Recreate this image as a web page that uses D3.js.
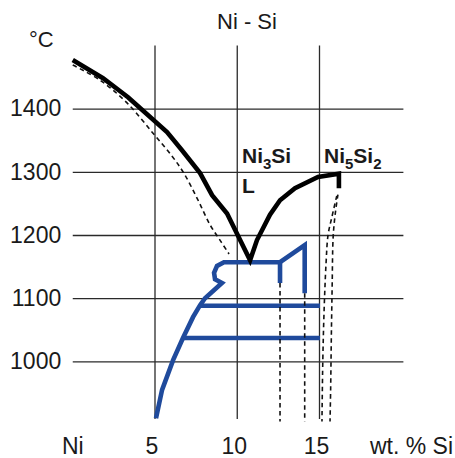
<!DOCTYPE html>
<html>
<head>
<meta charset="utf-8">
<script src="https://cdn.jsdelivr.net/npm/d3@7"></script>
<style>
  body { margin: 0; background: #fff; }
  svg { display: block; }
  text { font-family: "Liberation Sans", Arial, Helvetica, sans-serif; fill: #1a1a1a; }
</style>
</head>
<body>
<svg id="chart" width="455" height="458"></svg>
<script>
// Temperature ticks (°C) and composition ticks (wt. % Si)
const tempTicks = [1000, 1100, 1200, 1300, 1400];
const siTicks = [0, 5, 10, 15];
const siTickLabels = ["Ni", "5", "10", "15"];

// Liquidus, Ni side down to the eutectic and up to Ni5Si2
const liquidus = [
  [0, 1477], [1.84, 1448], [3.36, 1418], [4.09, 1401], [5.73, 1363],
  [6.64, 1334], [7.74, 1298], [8.47, 1263], [9.38, 1234], [10.78, 1160],
  [11.2, 1192], [11.99, 1232], [12.6, 1255], [13.51, 1274], [14.91, 1292],
  [16.18, 1297], [16.18, 1274]
];
// Solidus of the Ni solid solution
const solidusNi = [
  [0, 1469], [1.66, 1445], [3.3, 1409], [4.88, 1361], [6.0, 1326],
  [6.75, 1298], [7.6, 1256], [8.35, 1216], [9.0, 1190], [9.5, 1170]
];
// Solvus and Ni3Si field boundaries
const solvus = [
  [5.06, 910], [5.43, 955], [6.1, 1002], [6.7, 1037], [7.31, 1070],
  [7.74, 1089], [8.04, 1100], [9.07, 1124], [8.65, 1130], [8.59, 1140],
  [8.77, 1151], [9.19, 1157], [12.6, 1157], [14.1, 1184], [14.1, 1108]
];
const ni3SiLeftEdge = [[12.6, 1157], [12.6, 1124]];
const transitionHigh = [[7.7, 1088], [15.03, 1088]];
const transitionLow = [[6.7, 1037], [15.03, 1037]];
// Phase boundaries continued below the drawn field
const boundaryA = [[12.6, 1124], [12.6, 905]];
const boundaryB = [[14.1, 1108], [14.1, 905]];
const ni5Si2Left = [
  [16.05, 1262], [15.75, 1228], [15.52, 1200], [15.4, 1156],
  [15.28, 1081], [15.2, 1000], [15.15, 905]
];
const ni5Si2Right = [
  [16.12, 1264], [15.95, 1232], [15.83, 1197], [15.77, 1120],
  [15.72, 1040], [15.68, 960], [15.64, 905]
];

const svg = d3.select("#chart");

const x = d3.scaleLinear().domain([0, 15]).range([72.75, 319.5]);
const y = d3.scaleLinear().domain([1000, 1400]).range([361.4, 108.6]);

const xGridEnd = 20.1;
const tGridTop = 1500, tGridBottom = 909;

// Horizontal grid + temperature labels
const yAxis = d3.axisLeft(y)
  .tickValues(tempTicks)
  .tickSize(-(x(xGridEnd) - x(0)))
  .tickPadding(11.5)
  .tickFormat(d3.format("d"));
const gy = svg.append("g").attr("transform", `translate(${x(0)},0)`).call(yAxis);
gy.select(".domain").remove();
gy.selectAll(".tick line").attr("stroke", "#2a2a2a").attr("stroke-width", 1.3);
gy.selectAll(".tick text")
  .attr("font-size", 23).attr("font-family", null).attr("fill", "#1a1a1a");

// Vertical grid at 5, 10, 15 wt. %
const gridX = svg.append("g");
gridX.selectAll("line").data(siTicks.filter(d => d > 0)).join("line")
  .attr("x1", d => x(d)).attr("x2", d => x(d))
  .attr("y1", y(tGridTop)).attr("y2", y(tGridBottom))
  .attr("stroke", "#2a2a2a").attr("stroke-width", 1.3);

// Composition labels
svg.append("g").selectAll("text").data(siTicks).join("text")
  .attr("x", (d, i) => x(d) - (i === 0 ? 0 : 3))
  .attr("y", 454)
  .attr("text-anchor", "middle")
  .attr("font-size", 23)
  .text((d, i) => siTickLabels[i]);

svg.append("text").attr("x", 453).attr("y", 454).attr("text-anchor", "end")
  .attr("font-size", 23).text("wt. % Si");

svg.append("text").attr("x", 29).attr("y", 47).attr("font-size", 22).text("°C");
svg.append("text").attr("x", 247).attr("y", 29).attr("text-anchor", "middle")
  .attr("font-size", 22).text("Ni - Si");

const line = d3.line().x(d => x(d[0])).y(d => y(d[1]));
const smooth = d3.line().x(d => x(d[0])).y(d => y(d[1])).curve(d3.curveCatmullRom.alpha(0.5));

const blue = "#1f4a9c";

// Blue solid-state boundaries
[solvus, ni3SiLeftEdge, transitionHigh, transitionLow].forEach(p => {
  svg.append("path").attr("d", line(p))
    .attr("fill", "none").attr("stroke", blue).attr("stroke-width", 4.6)
    .attr("stroke-linejoin", "miter");
});

// Dashed boundaries
[solidusNi, ni5Si2Left, ni5Si2Right].forEach(p => {
  svg.append("path").attr("d", smooth(p))
    .attr("fill", "none").attr("stroke", "#111").attr("stroke-width", 1.6)
    .attr("stroke-dasharray", "4.5,3.5");
});
[boundaryA, boundaryB].forEach(p => {
  svg.append("path").attr("d", line(p))
    .attr("fill", "none").attr("stroke", "#111").attr("stroke-width", 1.6)
    .attr("stroke-dasharray", "4.5,3.5");
});

// Liquidus
svg.append("path").attr("d", line(liquidus))
  .attr("fill", "none").attr("stroke", "#000").attr("stroke-width", 4.6)
  .attr("stroke-linejoin", "miter").attr("stroke-miterlimit", 4);

// Phase labels
const lab = svg.append("g").attr("font-weight", "bold").attr("font-size", 21);
const t1 = lab.append("text").attr("x", 242).attr("y", 163);
t1.append("tspan").text("Ni");
t1.append("tspan").attr("font-size", 15).attr("dy", 6).text("3");
t1.append("tspan").attr("dy", -6).text("Si");
const t2 = lab.append("text").attr("x", 324).attr("y", 163);
t2.append("tspan").text("Ni");
t2.append("tspan").attr("font-size", 15).attr("dy", 6).text("5");
t2.append("tspan").attr("dy", -6).text("Si");
t2.append("tspan").attr("font-size", 15).attr("dy", 6).text("2");
lab.append("text").attr("x", 242).attr("y", 193).text("L");
</script>
</body>
</html>
